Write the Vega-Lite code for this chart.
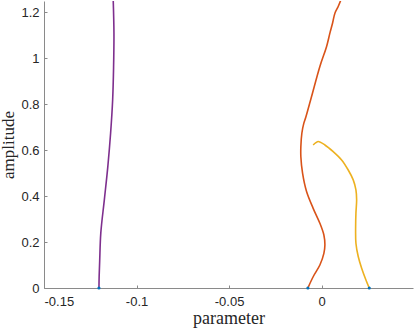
{
  "$schema": "https://vega.github.io/schema/vega-lite/v6.json",
  "width": 369,
  "height": 287,
  "autosize": "none",
  "padding": {"left": 44, "top": 1, "right": 2, "bottom": 41},
  "background": "white",
  "config": {"view": {"stroke": null}},
  "datasets": {
    "curves": [
      {"s": "a", "i": 0, "p": -0.1203, "a": 0},
      {"s": "a", "i": 1, "p": -0.1202, "a": 0.05},
      {"s": "a", "i": 2, "p": -0.1199, "a": 0.12},
      {"s": "a", "i": 3, "p": -0.1193, "a": 0.24},
      {"s": "a", "i": 4, "p": -0.1174, "a": 0.384},
      {"s": "a", "i": 5, "p": -0.1155, "a": 0.53},
      {"s": "a", "i": 6, "p": -0.1140, "a": 0.675},
      {"s": "a", "i": 7, "p": -0.1129, "a": 0.82},
      {"s": "a", "i": 8, "p": -0.1124, "a": 0.96},
      {"s": "a", "i": 9, "p": -0.1122, "a": 1.11},
      {"s": "a", "i": 10, "p": -0.1126, "a": 1.255},
      {"s": "b", "i": 0, "p": -0.0074, "a": 0},
      {"s": "b", "i": 1, "p": -0.00455, "a": 0.049},
      {"s": "b", "i": 2, "p": -0.00092, "a": 0.10},
      {"s": "b", "i": 3, "p": 0.00124, "a": 0.151},
      {"s": "b", "i": 4, "p": 0.00179, "a": 0.187},
      {"s": "b", "i": 5, "p": 0.00124, "a": 0.231},
      {"s": "b", "i": 6, "p": -0.00092, "a": 0.282},
      {"s": "b", "i": 7, "p": -0.00455, "a": 0.347},
      {"s": "b", "i": 8, "p": -0.00812, "a": 0.42},
      {"s": "b", "i": 9, "p": -0.01028, "a": 0.50},
      {"s": "b", "i": 10, "p": -0.0112, "a": 0.572},
      {"s": "b", "i": 11, "p": -0.0112, "a": 0.616},
      {"s": "b", "i": 12, "p": -0.01066, "a": 0.674},
      {"s": "b", "i": 13, "p": -0.00958, "a": 0.718},
      {"s": "b", "i": 14, "p": -0.00866, "a": 0.74},
      {"s": "b", "i": 15, "p": -0.00541, "a": 0.834},
      {"s": "b", "i": 16, "p": -0.00092, "a": 0.965},
      {"s": "b", "i": 17, "p": 0.00271, "a": 1.052},
      {"s": "b", "i": 18, "p": 0.00449, "a": 1.11},
      {"s": "b", "i": 19, "p": 0.00595, "a": 1.154},
      {"s": "b", "i": 20, "p": 0.0072, "a": 1.197},
      {"s": "b", "i": 21, "p": 0.00898, "a": 1.226},
      {"s": "b", "i": 22, "p": 0.01044, "a": 1.255},
      {"s": "c", "i": 0, "p": 0.02576, "a": 0},
      {"s": "c", "i": 1, "p": 0.02397, "a": 0.035},
      {"s": "c", "i": 2, "p": 0.02165, "a": 0.086},
      {"s": "c", "i": 3, "p": 0.0198, "a": 0.137},
      {"s": "c", "i": 4, "p": 0.01856, "a": 0.195},
      {"s": "c", "i": 5, "p": 0.0184, "a": 0.267},
      {"s": "c", "i": 6, "p": 0.01856, "a": 0.326},
      {"s": "c", "i": 7, "p": 0.01894, "a": 0.384},
      {"s": "c", "i": 8, "p": 0.01856, "a": 0.427},
      {"s": "c", "i": 9, "p": 0.0171, "a": 0.471},
      {"s": "c", "i": 10, "p": 0.0144, "a": 0.514},
      {"s": "c", "i": 11, "p": 0.01082, "a": 0.558},
      {"s": "c", "i": 12, "p": 0.00628, "a": 0.594},
      {"s": "c", "i": 13, "p": 0.00179, "a": 0.623},
      {"s": "c", "i": 14, "p": -0.00184, "a": 0.638},
      {"s": "c", "i": 15, "p": -0.00308, "a": 0.633},
      {"s": "c", "i": 16, "p": -0.00455, "a": 0.623}
    ],
    "starts": [
      {"p": -0.1203, "a": 0},
      {"p": -0.0074, "a": 0},
      {"p": 0.02576, "a": 0}
    ]
  },
  "layer": [
    {
      "data": {"name": "curves"},
      "mark": {"type": "line", "strokeWidth": 1.6, "interpolate": "catmull-rom", "clip": true},
      "encoding": {
        "x": {
          "field": "p", "type": "quantitative",
          "scale": {"domain": [-0.15, 0.0494], "nice": false, "zero": false},
          "axis": {
            "values": [-0.15, -0.1, -0.05, 0],
            "labelExpr": "'' + datum.value",
            "title": "parameter",
            "titleFont": "Liberation Serif", "titleFontSize": 18, "titleFontWeight": "normal",
            "titleColor": "#262626", "titlePadding": 1,
            "labelFont": "Liberation Sans", "labelFontSize": 13, "labelColor": "#262626",
            "labelPadding": 10,
            "domainColor": "#8a8a8a", "tickColor": "#8a8a8a", "tickSize": -3, "grid": false
          }
        },
        "y": {
          "field": "a", "type": "quantitative",
          "scale": {"domain": [0, 1.25], "nice": false},
          "axis": {
            "values": [0, 0.2, 0.4, 0.6, 0.8, 1, 1.2],
            "labelExpr": "'' + datum.value",
            "title": "amplitude",
            "titleFont": "Liberation Serif", "titleFontSize": 17, "titleFontWeight": "normal",
            "titleColor": "#262626", "titlePadding": 3,
            "labelFont": "Liberation Sans", "labelFontSize": 13, "labelColor": "#262626",
            "labelPadding": 8,
            "domainColor": "#8a8a8a", "tickColor": "#8a8a8a", "tickSize": -3, "grid": false
          }
        },
        "color": {
          "field": "s", "type": "nominal",
          "scale": {"domain": ["a", "b", "c"], "range": ["#7E2F8E", "#D95319", "#EDB120"]},
          "legend": null
        },
        "order": {"field": "i", "type": "quantitative"}
      }
    },
    {
      "data": {"name": "starts"},
      "mark": {"type": "point", "filled": true, "size": 10, "color": "#0072BD", "opacity": 1},
      "encoding": {
        "x": {"field": "p", "type": "quantitative"},
        "y": {"field": "a", "type": "quantitative"}
      }
    }
  ]
}
